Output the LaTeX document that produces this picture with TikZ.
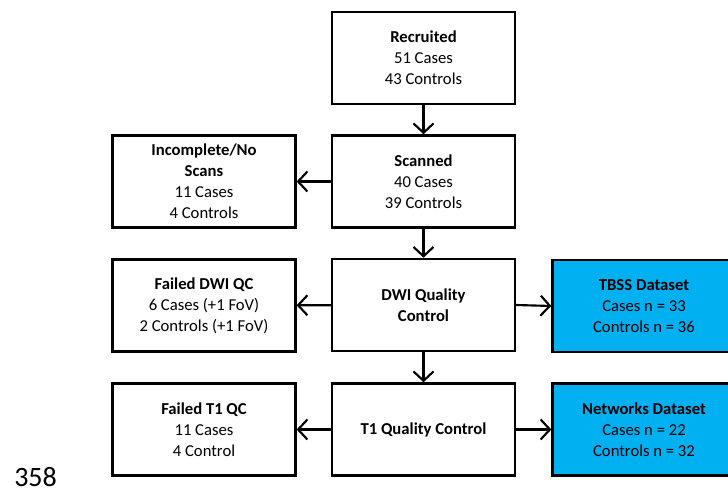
\documentclass[tikz,border=0pt]{standalone}
\usepackage{fontspec}
\setmainfont{Carlito}
\usetikzlibrary{arrows.meta}
\definecolor{dsblue}{HTML}{00B0F0}
\begin{document}
\begin{tikzpicture}[x=0.75pt,y=-0.75pt,
  box/.style={draw, line width=1.9pt, minimum width=137pt, minimum height=69pt,
    align=center, inner sep=0pt, font=\fontsize{12.5}{15.8}\selectfont},
  dsbox/.style={box, fill=dsblue},
  arr/.style={line width=1.6pt, -{Straight Barb[length=7pt,width=15pt,line width=1.6pt]}}]
\useasboundingbox (0,0) rectangle (728,491);
\node[box] (rec) at (423.5,58) {\textbf{Recruited}\\51 Cases\\43 Controls};
\node[box] (scan) at (423.5,181.5) {\textbf{Scanned}\\40 Cases\\39 Controls};
\node[box] (dwi) at (423.5,305) {\textbf{DWI Quality}\\\textbf{Control}};
\node[box] (t1) at (423.5,429.5) {\textbf{T1 Quality Control}};
\node[box] (inc) at (204,181.5) {\textbf{Incomplete/No}\\\textbf{Scans}\\11 Cases\\4 Controls};
\node[box] (fdwi) at (204,305.5) {\textbf{Failed DWI QC}\\6 Cases (+1 FoV)\\2 Controls (+1 FoV)};
\node[box] (ft1) at (204,429.5) {\textbf{Failed T1 QC}\\11 Cases\\4 Control};
\node[dsbox] (tbss) at (644,306) {\textbf{TBSS Dataset}\\Cases n = 33\\Controls n = 36};
\node[dsbox] (net) at (644,429.5) {\textbf{Networks Dataset}\\Cases n = 22\\Controls n = 32};
\node[anchor=base west, inner sep=0pt, font=\fontsize{21}{24}\selectfont] (num) at (14,486) {358};
\draw[arr] (rec) -- (scan);
\draw[arr] (scan) -- (dwi);
\draw[arr] (dwi) -- (t1);
\draw[arr] (scan) -- (inc);
\draw[arr] (dwi) -- (fdwi);
\draw[arr] (t1) -- (ft1);
\draw[arr] (dwi.east) -- (tbss.west);
\draw[arr] (t1) -- (net);
\end{tikzpicture}
\end{document}
